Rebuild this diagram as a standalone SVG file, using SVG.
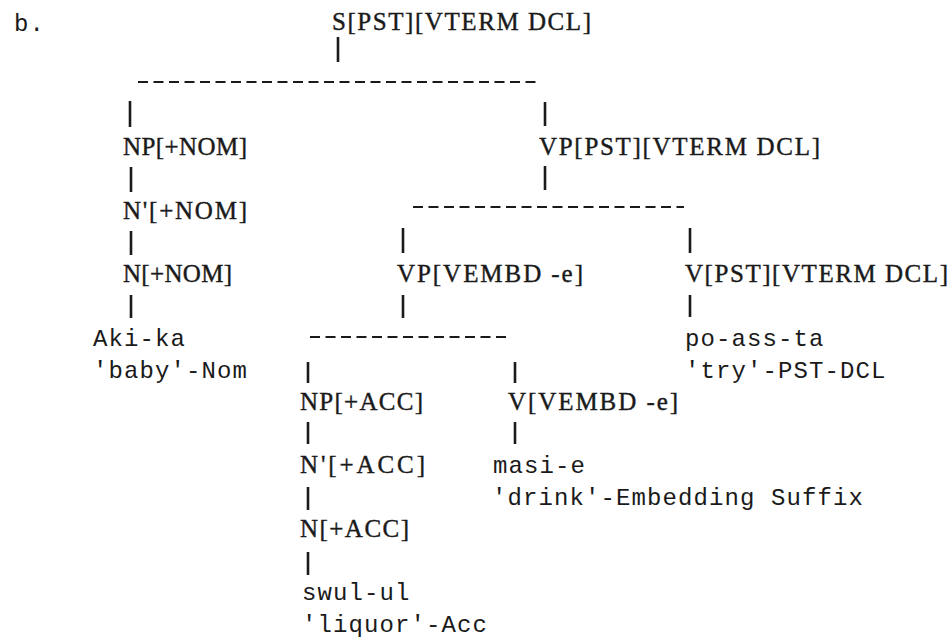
<svg xmlns="http://www.w3.org/2000/svg" width="952" height="641" viewBox="0 0 952 641">
<style>
text{font-family:"Liberation Mono","DejaVu Sans Mono",monospace;font-size:24px;letter-spacing:1.1px;fill:#1a1a1a}
text.lab{font-family:"Liberation Serif","DejaVu Serif",serif;font-size:25px;letter-spacing:0;stroke:#1a1a1a;stroke-width:0.4}
.bar{stroke:#1a1a1a;stroke-width:2.6;fill:none}
.dash{stroke:#1a1a1a;stroke-width:2;stroke-dasharray:10 5.5;fill:none}
</style>
<rect width="952" height="641" fill="#ffffff"/>
<g id="connectors">
<line class="bar" x1="338" y1="37" x2="338" y2="62"/>
<line class="dash" x1="138" y1="82" x2="540" y2="82"/>
<line class="bar" x1="130" y1="101" x2="130" y2="127"/>
<line class="bar" x1="545" y1="102" x2="545" y2="126"/>
<line class="bar" x1="131" y1="167" x2="131" y2="192"/>
<line class="bar" x1="545" y1="166" x2="545" y2="190"/>
<line class="dash" x1="413" y1="207" x2="684" y2="207"/>
<line class="bar" x1="131" y1="231" x2="131" y2="255"/>
<line class="bar" x1="403" y1="228" x2="403" y2="253"/>
<line class="bar" x1="690" y1="228" x2="690" y2="253"/>
<line class="bar" x1="131" y1="295" x2="131" y2="318"/>
<line class="bar" x1="403" y1="295" x2="403" y2="318"/>
<line class="bar" x1="690" y1="295" x2="690" y2="317"/>
<line class="dash" x1="310" y1="337" x2="507" y2="337"/>
<line class="bar" x1="308" y1="362" x2="308" y2="383"/>
<line class="bar" x1="515" y1="362" x2="515" y2="383"/>
<line class="bar" x1="308" y1="422" x2="308" y2="444"/>
<line class="bar" x1="515" y1="422" x2="515" y2="444"/>
<line class="bar" x1="308" y1="487" x2="308" y2="510"/>
<line class="bar" x1="308" y1="552" x2="308" y2="575"/>
</g>
<g id="label-b"><text x="14" y="31">b.</text></g>
<g id="node-S"><text class="lab" x="332" y="30" textLength="259" lengthAdjust="spacing">S[PST][VTERM DCL]</text></g>
<g id="node-NP-nom"><text class="lab" x="123" y="155" textLength="124" lengthAdjust="spacing">NP[+NOM]</text></g>
<g id="node-VP-pst"><text class="lab" x="539" y="155" textLength="281" lengthAdjust="spacing">VP[PST][VTERM DCL]</text></g>
<g id="node-N1-nom"><text class="lab" x="123" y="219" textLength="124" lengthAdjust="spacing">N'[+NOM]</text></g>
<g id="node-N-nom"><text class="lab" x="123" y="282" textLength="109" lengthAdjust="spacing">N[+NOM]</text></g>
<g id="node-VP-vembd"><text class="lab" x="397" y="282" textLength="186" lengthAdjust="spacing">VP[VEMBD -e]</text></g>
<g id="node-V-pst"><text class="lab" x="685" y="282" textLength="263" lengthAdjust="spacing">V[PST][VTERM DCL]</text></g>
<g id="leaf-aki"><text x="93" y="346">Aki-ka</text><text x="93" y="378">'baby'-Nom</text></g>
<g id="leaf-po"><text x="685" y="346">po-ass-ta</text><text x="685" y="378">'try'-PST-DCL</text></g>
<g id="node-NP-acc"><text class="lab" x="300" y="410" textLength="123" lengthAdjust="spacing">NP[+ACC]</text></g>
<g id="node-V-vembd"><text class="lab" x="508" y="410" textLength="170" lengthAdjust="spacing">V[VEMBD -e]</text></g>
<g id="node-N1-acc"><text class="lab" x="300" y="473" textLength="125" lengthAdjust="spacing">N'[+ACC]</text></g>
<g id="leaf-masi"><text x="493" y="473">masi-e</text><text x="492" y="505">'drink'-Embedding Suffix</text></g>
<g id="node-N-acc"><text class="lab" x="300" y="537" textLength="109" lengthAdjust="spacing">N[+ACC]</text></g>
<g id="leaf-swul"><text x="302" y="600">swul-ul</text><text x="302" y="632">'liquor'-Acc</text></g>
</svg>
